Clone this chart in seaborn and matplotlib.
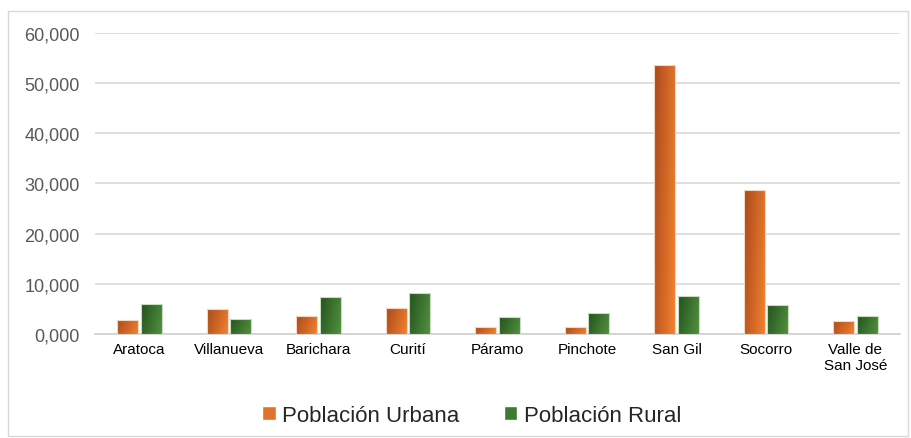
import numpy as np
import pandas as pd
import matplotlib
matplotlib.use("Agg")
import matplotlib.pyplot as plt
import seaborn as sb
from matplotlib.colors import LinearSegmentedColormap
from matplotlib.patches import Rectangle

# datos
municipios = ["Aratoca", "Villanueva", "Barichara", "Curití", "Páramo",
              "Pinchote", "San Gil", "Socorro", "Valle de\nSan José"]
urbana = [2800, 5000, 3600, 5250, 1450, 1300, 53600, 28600, 2650]
rural = [5900, 3050, 7400, 8200, 3300, 4100, 7600, 5700, 3650]
series = ["Población Urbana", "Población Rural"]

df = pd.DataFrame({"municipio": municipios * 2,
                   "valor": urbana + rural,
                   "serie": [series[0]] * 9 + [series[1]] * 9})

sb.set_style("white")
plt.rcParams["font.family"] = ["Liberation Sans", "DejaVu Sans"]

fig = plt.figure(figsize=(9.12, 4.39), dpi=100)
ax = fig.add_axes([0.104, 0.237, 0.883, 0.686])

colores = {series[0]: "#e0722a", series[1]: "#3f7a32"}
sb.barplot(data=df, x="municipio", y="valor", hue="serie", palette=colores,
           ax=ax, width=0.52, gap=0.1, legend=True)

# degradado tipo Excel en las barras
cmaps = {series[0]: LinearSegmentedColormap.from_list("o", ["#a9491b", "#f3812f"]),
         series[1]: LinearSegmentedColormap.from_list("g", ["#24521f", "#52903f"])}
grad = np.linspace(0, 1, 64)
grad = 0.75 * grad[None, :] + 0.25 * grad[:, None]
for cont, s in zip(ax.containers, series):
    for p in cont.patches:
        x0, y0 = p.get_x(), p.get_y()
        w, h = p.get_width(), p.get_height()
        im = ax.imshow(grad, cmap=cmaps[s], aspect="auto",
                       extent=(x0, x0 + w, y0, y0 + h), origin="upper", zorder=3)
        im.set_clip_path(p)
        p.set_edgecolor("#f2d8c0" if s == series[0] else "#c9dcc0")
        p.set_linewidth(0.8)
        p.set_zorder(4)
        p.set_facecolor("none")

ax.set_xlim(-0.5, 8.5)
ax.set_ylim(0, 60000)
ax.set_yticks(range(0, 60001, 10000))
ax.set_yticklabels([f"{int(v / 1000)},000" for v in range(0, 60001, 10000)])
ax.yaxis.grid(True, color="#d9d9d9", linewidth=1.2)
ax.set_axisbelow(True)
ax.tick_params(axis="y", labelsize=13, labelcolor="#595959", length=0, pad=11)
ax.tick_params(axis="x", labelsize=11, labelcolor="#000000", length=0, pad=6)
ax.set_xlabel("")
ax.set_ylabel("")
for side in ["top", "right", "left"]:
    ax.spines[side].set_visible(False)
ax.spines["bottom"].set_color("#d0d0d0")
ax.spines["bottom"].set_linewidth(1.2)

handles = [Rectangle((0, 0), 1, 1, facecolor=colores[s]) for s in series]
ax.legend(handles, series, loc="upper center", bbox_to_anchor=(0.468, -0.17),
          ncol=2, frameon=False, fontsize=16, handlelength=0.6, handleheight=0.6,
          handletextpad=0.3, columnspacing=2.0)

# borde del grafico
fig.patches.append(Rectangle((0.009, 0.005), 0.987, 0.968, transform=fig.transFigure,
                             fill=False, edgecolor="#d9d9d9", linewidth=1))

fig.savefig("out.png", dpi=100)
